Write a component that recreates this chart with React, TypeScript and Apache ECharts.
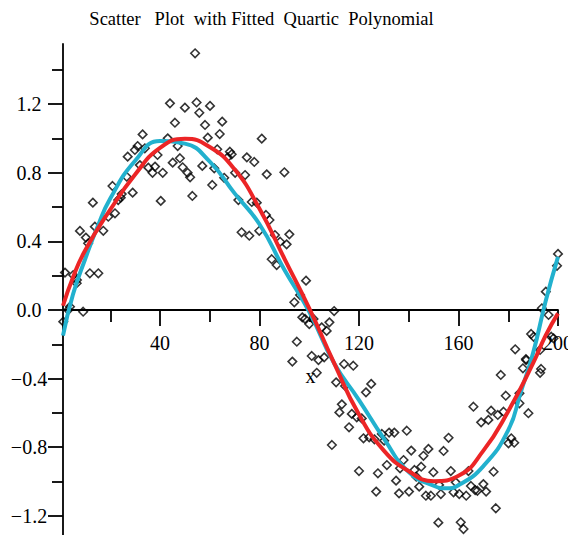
import React, { useEffect, useRef } from "react";
import * as echarts from "echarts";

// Scatter data (x, y)
const scatterX = [
  1.1, 3.1, 3.8, 9.1, 1.8, 5.1, 6.6, 6.5, 11.8, 15.2, 7.8, 10.2, 11.1, 13.8, 17.2, 19.2, 21.9, 23.2, 13.0,
  20.9, 26.6, 24.6, 29.0, 40.3, 27.0, 29.9, 31.0, 33.9, 33.0, 31.9, 35.3, 38.0, 37.0, 39.0, 41.1, 45.1, 48.0,
  49.1, 51.1, 52.1, 53.0, 43.1, 47.1, 46.0, 44.0, 50.0, 54.7, 54.1, 55.8, 24.2,
  60.1, 58.1, 65.0, 59.2, 64.0, 80.9, 63.0, 68.1, 68.8, 67.2, 74.9, 77.9, 57.0, 61.8, 65.8, 70.2, 74.2, 82.9,
  90.0, 61.0, 71.5, 78.9, 76.9,
  82.6, 84.0, 72.8, 75.9, 79.9, 86.2, 92.0, 88.3, 90.9, 84.9, 86.9, 98.7, 96.3, 94.0, 110.0, 97.2, 98.3, 100.0,
  101.7, 108.1, 105.0, 107.0, 95.0, 101.0, 106.0, 103.7, 93.2, 114.0, 117.7,
  103.0, 110.8, 114.4, 124.9, 122.8, 113.1, 112.1, 117.1, 119.1, 121.1, 116.0, 121.8, 124.1, 126.2, 109.1,
  120.0, 127.6, 126.9,
  187.2, 185.9, 192.8, 177.0, 179.0, 184.5, 184.5, 188.1, 166.0, 173.1, 178.1, 175.8, 169.1, 172.0, 129.2,
  132.1, 134.2, 139.2, 130.1, 156.0, 181.2, 180.1, 182.4, 141.0, 147.9, 154.0, 145.9, 137.9, 131.2, 136.5,
  145.0, 142.3, 149.9, 156.9, 164.0, 174.1, 134.9, 143.0, 152.2, 158.9, 165.0, 170.0, 166.7, 167.6, 171.1,
  136.1, 140.1, 144.2, 146.9, 148.9, 152.9, 158.0, 160.3, 163.1, 175.0, 151.9, 160.9, 162.0,
  200.0, 199.6, 195.1, 193.5, 196.2, 189.2, 190.2, 197.3, 198.2, 192.8, 182.8, 187.1, 193.2,
];
const scatterY = [
  -0.068, 0.0, 0.019, -0.01, 0.218, 0.204, 0.175, 0.156, 0.214, 0.214, 0.461, 0.422, 0.389, 0.486, 0.462,
  0.544, 0.564, 0.641, 0.626,
  0.723, 0.777, 0.676, 0.684, 0.636, 0.894, 0.933, 0.956, 0.943, 1.024, 0.845, 0.83, 0.836, 0.8, 0.904, 0.8,
  0.859, 0.885, 0.832, 0.8, 0.774, 0.665, 1.001, 0.956, 1.092, 1.205, 1.18, 1.21, 1.497, 1.15, 0.655,
  1.19, 1.079, 1.098, 1.005, 1.026, 0.999, 0.937, 0.923, 0.908, 0.89, 0.89, 0.863, 0.84, 0.826, 0.771, 0.8,
  0.787, 0.791, 0.803, 0.729, 0.641, 0.626, 0.63,
  0.554, 0.525, 0.453, 0.433, 0.462, 0.437, 0.441, 0.398, 0.383, 0.296, 0.262, 0.171, 0.087, 0.045, -0.006,
  -0.043, -0.052, -0.082, -0.052, -0.072, -0.101, -0.122, -0.185, -0.268, -0.276, -0.292, -0.301, -0.315,
  -0.325,
  -0.366, -0.422, -0.443, -0.431, -0.48, -0.55, -0.597, -0.606, -0.626, -0.632, -0.684, -0.748, -0.742,
  -0.754, -0.787, -0.939, -0.952, -1.059,
  -0.292, -0.34, -0.366, -0.379, -0.5, -0.486, -0.544, -0.602, -0.564, -0.587, -0.593, -0.612, -0.655,
  -0.641, -0.723, -0.715, -0.715, -0.704, -0.762, -0.745, -0.748, -0.777, -0.774, -0.82, -0.81, -0.822,
  -0.85, -0.875, -0.904, -0.923, -0.914, -0.933, -0.946, -0.939, -0.939, -0.943, -0.995, -0.972, -1.02,
  -1.005, -1.026, -1.015, -1.05, -1.054, -1.059, -1.069, -1.059, -1.03, -1.083, -1.083, -1.073, -1.063,
  -1.073, -1.083, -1.156, -1.24, -1.238, -1.277,
  0.327, 0.258, 0.107, 0.01, -0.029, -0.14, -0.156, -0.156, -0.165, -0.233, -0.229, -0.286, -0.344,
];

// Fitted quartic polynomial (red)
const quarticX = [1, 5, 10, 20, 30, 40, 50, 60, 70, 80, 90, 100, 110, 120, 130, 140, 150, 160, 170, 180, 190, 195, 200];
const quarticY = [0.025, 0.19, 0.35, 0.585, 0.79, 0.945, 0.998, 0.95, 0.82, 0.59, 0.3, 0.01, -0.31, -0.61, -0.82, -0.94, -0.998, -0.967, -0.82, -0.59, -0.31, -0.15, -0.02];

// Second curve (turquoise)
const curveX = [1, 5, 10, 15, 20, 30, 40, 50, 60, 70, 80, 90, 100, 110, 120, 130, 140, 150, 155, 160, 170, 180, 185, 190, 195, 200];
const curveY = [-0.15, 0.09, 0.3, 0.49, 0.65, 0.87, 0.985, 0.97, 0.865, 0.68, 0.5, 0.235, -0.01, -0.31, -0.525, -0.75, -0.945, -1.025, -1.04, -1.022, -0.91, -0.7, -0.48, -0.25, 0.05, 0.31];

// Axis ticks and labels
const xLabelValues = [40, 80, 120, 160, 200];
const xMinorValues = [20, 60, 100, 140, 180];
const yLabelValues = [-1.2, -0.8, -0.4, 0, 0.4, 0.8, 1.2];
const yMinorValues = [-1.0, -0.6, -0.2, 0.2, 0.6, 1.0, 1.4];

const TITLE = "Scatter   Plot  with Fitted  Quartic  Polynomial";
const FONT = "'Liberation Serif', 'Times New Roman', serif";

export default function App() {
  const ref = useRef<HTMLDivElement>(null);
  useEffect(() => {
    if (!ref.current) return;
    const chart = echarts.init(ref.current, null, { renderer: "svg" });
    const xMin = 1, xMax = 200, yMin = -1.312, yMax = 1.551;
    const gridTop = 44, gridBottom = 0, height = 535;
    const gridH = height - gridTop - gridBottom;
    // place the x axis where y = 0 (moved up from the grid's bottom edge)
    const zeroOffset = -gridH * (0 - yMin) / (yMax - yMin);
    const lineStyle = { color: "#000", width: 1.8 };
    const fmtY = (v: number) => (v < -1e-9 ? "\u2212" : "") + Math.abs(v).toFixed(1);
    chart.setOption({
      animation: false,
      backgroundColor: "#fff",
      grid: { left: 63, right: 10, top: gridTop, bottom: gridBottom, outerBoundsMode: "none", containLabel: false },
      graphic: [
        {
          type: "text",
          x: 261.5,
          y: 19,
          style: {
            text: TITLE,
            font: `18.5px ${FONT}`,
            fill: "#000",
            textAlign: "center",
            textVerticalAlign: "middle",
          },
        },
      ],
      xAxis: [
        {
          type: "value",
          min: xMin,
          max: xMax,
          position: "bottom",
          offset: zeroOffset,
          name: "x",
          nameLocation: "middle",
          nameGap: 56,
          nameTextStyle: { fontFamily: FONT, fontSize: 20, color: "#000" },
          axisLine: { show: true, onZero: false, lineStyle },
          axisTick: { show: true, length: 16, customValues: xLabelValues, lineStyle },
          axisLabel: { show: true, customValues: xLabelValues, margin: 23, fontFamily: FONT, fontSize: 20, color: "#000" },
          splitLine: { show: false },
        },
        {
          type: "value",
          min: xMin,
          max: xMax,
          position: "bottom",
          offset: zeroOffset,
          axisLine: { show: false, onZero: false },
          axisTick: { show: true, length: 12, customValues: xMinorValues, lineStyle },
          axisLabel: { show: false },
          splitLine: { show: false },
        },
      ],
      yAxis: [
        {
          type: "value",
          min: yMin,
          max: yMax,
          position: "left",
          axisLine: { show: true, onZero: false, lineStyle },
          axisTick: { show: true, length: 15, customValues: yLabelValues, lineStyle },
          axisLabel: {
            show: true,
            customValues: yLabelValues,
            formatter: fmtY,
            margin: 34,
            align: "center",
            fontFamily: FONT,
            fontSize: 20,
            color: "#000",
          },
          splitLine: { show: false },
        },
        {
          type: "value",
          min: yMin,
          max: yMax,
          position: "left",
          axisLine: { show: false, onZero: false },
          axisTick: { show: true, length: 11, customValues: yMinorValues, lineStyle },
          axisLabel: { show: false },
          splitLine: { show: false },
        },
      ],
      series: [
        {
          type: "scatter",
          xAxisIndex: 0,
          yAxisIndex: 0,
          data: scatterX.map((x, i) => [x, scatterY[i]]),
          symbol: "path://M5,0L10,5L5,10L0,5Z",
          symbolSize: 8.5,
          itemStyle: { color: "rgba(0,0,0,0)", borderColor: "#000", borderWidth: 1.6 },
          z: 2,
        },
        {
          type: "line",
          xAxisIndex: 0,
          yAxisIndex: 0,
          data: curveX.map((x, i) => [x, curveY[i]]),
          smooth: true,
          showSymbol: false,
          lineStyle: { color: "#22B1CE", width: 4 },
          z: 3,
        },
        {
          type: "line",
          xAxisIndex: 0,
          yAxisIndex: 0,
          data: quarticX.map((x, i) => [x, quarticY[i]]),
          smooth: true,
          showSymbol: false,
          lineStyle: { color: "#EC2526", width: 4 },
          z: 4,
        },
      ],
    });
    return () => chart.dispose();
  }, []);
  return (
    <div
      ref={ref}
      style={{ position: "fixed", left: 0, top: 0, width: 568, height: 535, background: "#fff" }}
    />
  );
}
